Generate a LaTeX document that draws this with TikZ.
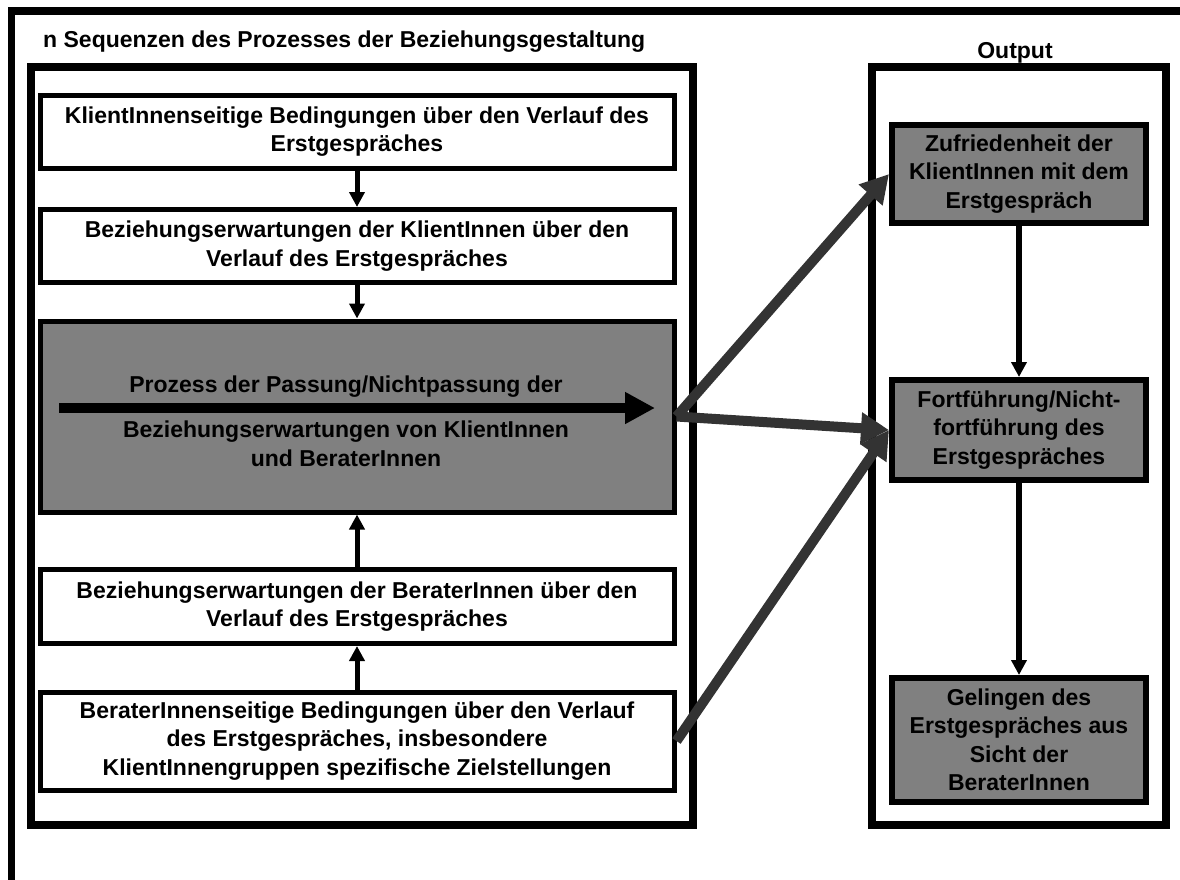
\documentclass[tikz,border=0pt]{standalone}
\usepackage{fontspec}
\setmainfont{Liberation Sans}
\usetikzlibrary{arrows.meta,calc}
\definecolor{boxgray}{RGB}{128,128,128}
\definecolor{arrowgray}{RGB}{51,51,51}

\begin{document}
\begin{tikzpicture}[x=1pt,y=-1pt,
  every node/.style={font=\fontsize{23}{28.5}\selectfont\bfseries, align=center, inner sep=0pt},
  frame/.style={draw, line width=7.5pt},
  whitebox/.style={draw, line width=5pt, fill=white, minimum width=634pt},
  processbox/.style={draw, line width=5pt, fill=boxgray, minimum width=634pt},
  outbox/.style={draw, line width=6pt, fill=boxgray, minimum width=254pt},
  flow/.style={line width=5pt, -{Triangle[length=15pt,width=15pt]}},
  outflow/.style={line width=6pt, -{Triangle[length=15pt,width=15pt]}},
  bigflow/.style={draw=arrowgray, line width=10pt, -{Triangle[length=28pt,width=30pt]}},
  passflow/.style={line width=10pt, -{Triangle[length=30pt,width=30pt]}}
]
\useasboundingbox (0,0) rectangle (1180,879);
\clip (0,0) rectangle (1180,879);

% outer frame, running off the page at right and bottom
\draw[frame] (11.5,11) rectangle (1200,900);

% column frames
\node[frame, minimum width=662pt, minimum height=758pt] (leftframe) at (362,446) {};
\node[frame, minimum width=294pt, minimum height=758pt] (rightframe) at (1019,446) {};

% headings
\node[anchor=base west] (title) at (43,47) {n Sequenzen des Prozesses der Beziehungsgestaltung};
\node[anchor=base] (outlabel) at (1015,58) {Output};

% left column
\node[whitebox, minimum height=73pt] (b1) at (357,131.5)
  {KlientInnenseitige Bedingungen über den Verlauf des\\Erstgespräches};
\node[whitebox, minimum height=73pt] (b2) at (357,246)
  {Beziehungserwartungen der KlientInnen über den\\Verlauf des Erstgespräches};
\node[processbox, minimum height=191pt] (gray) at (357,416.5) {};
\node (graytext) at ($(gray.center)+(-11,5)$)
  {Prozess der Passung/Nichtpassung der\\[16.5pt]Beziehungserwartungen von KlientInnen\\und BeraterInnen};
\node[whitebox, minimum height=74pt] (b4) at (357,606.5)
  {Beziehungserwartungen der BeraterInnen über den\\Verlauf des Erstgespräches};
\node[whitebox, minimum height=98pt] (b5) at (357,741)
  {BeraterInnenseitige Bedingungen über den Verlauf\\des Erstgespräches, insbesondere\\KlientInnengruppen spezifische Zielstellungen};

% right column
\node[outbox, minimum height=98pt] (r1) at (1019,174)
  {Zufriedenheit der\\KlientInnen mit dem\\Erstgespräch};
\node[outbox, minimum height=100pt] (r2) at (1019,430)
  {Fortführung/Nicht-\\fortführung des\\Erstgespräches};
\node[outbox, minimum height=124pt] (r3) at (1019,740)
  {Gelingen des\\Erstgespräches aus\\Sicht der\\BeraterInnen};

% arrow across the process box
\draw[passflow] ($(gray.west)+(21.5,-8.5)$) -- ($(gray.east)+(-21.5,-8.5)$);

% vertical flows
\draw[flow] (b1.south) -- (b2.north);
\draw[flow] (b2.south) -- (gray.north);
\draw[flow] (b4.north) -- (gray.south);
\draw[flow] (b5.north) -- (b4.south);
\draw[outflow] (r1.south) -- (r2.north);
\draw[outflow] (r2.south) -- (r3.north);

% flows into the output column
\draw[bigflow] (gray.east) -- (r1.west);
\draw[bigflow] (gray.east) -- (r2.west);
\draw[bigflow] (b5.east) -- (r2.west);
\end{tikzpicture}
\end{document}
